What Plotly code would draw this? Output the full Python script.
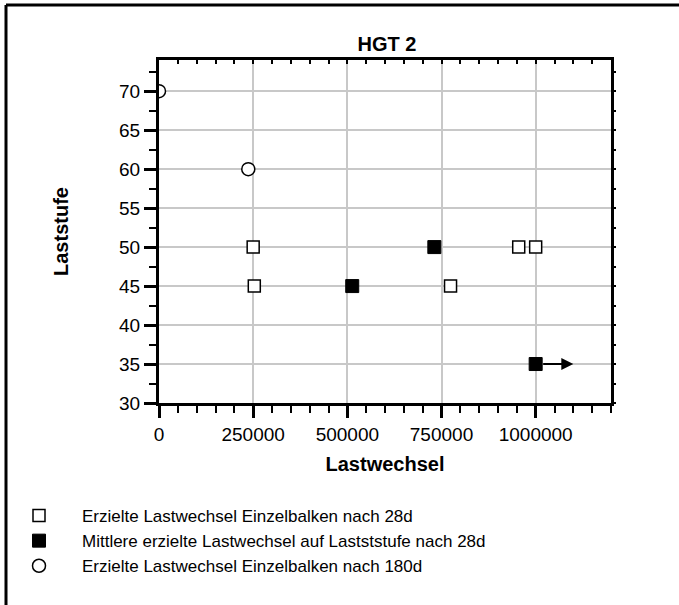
import plotly.graph_objects as go

# Data
open28_x = [250000, 253000, 774000, 955000, 1000000]
open28_y = [50, 45, 45, 50, 50]
mean_x = [513000, 731000, 1000000]
mean_y = [45, 50, 35]
open180_x = [0, 237000]
open180_y = [70, 60]
arrow_from = [1000000, 35]
arrow_to = [1100000, 35]

x_ticks = [0, 250000, 500000, 750000, 1000000]
x_ticktext = ["0", "250000", "500000", "750000", "1000000"]
y_ticks = [30, 35, 40, 45, 50, 55, 60, 65, 70]
x_range = [0, 1200000]
y_range = [30, 74]

names = [
    "Erzielte Lastwechsel Einzelbalken nach 28d",
    "Mittlere erzielte Lastwechsel auf Lastststufe nach 28d",
    "Erzielte Lastwechsel Einzelbalken nach 180d",
]

FONT = "Liberation Sans, Arial, sans-serif"

fig = go.Figure()
fig.add_trace(go.Scatter(
    x=open28_x, y=open28_y, mode="markers", name=names[0],
    marker=dict(symbol="square", size=12, color="white",
                line=dict(color="black", width=1.5)),
))
fig.add_trace(go.Scatter(
    x=mean_x, y=mean_y, mode="markers", name=names[1],
    marker=dict(symbol="square", size=13, color="black",
                line=dict(color="black", width=1)),
))
fig.add_trace(go.Scatter(
    x=open180_x, y=open180_y, mode="markers", name=names[2],
    marker=dict(symbol="circle", size=13, color="white",
                line=dict(color="black", width=1.5)),
))
# invisible trace to activate the mirror axes (top / right)
fig.add_trace(go.Scatter(x=x_range, y=y_range, mode="markers", xaxis="x2", yaxis="y2",
                         marker=dict(opacity=0), showlegend=False, hoverinfo="skip"))

fig.add_annotation(
    x=arrow_to[0], y=arrow_to[1], ax=arrow_from[0], ay=arrow_from[1],
    xref="x", yref="y", axref="x", ayref="y", text="",
    showarrow=True, arrowhead=2, arrowsize=1.2, arrowwidth=2,
    arrowcolor="black", startstandoff=6, standoff=0,
)

L, R, T, B = 159, 68, 60, 202
W, H = 679, 605
pw, ph = W - L - R, H - T - B

def px_x(p):
    return (p - L) / pw

def px_y(p):
    return (H - B - p) / ph

# outer frame (left and top lines)
fig.add_shape(type="line", xref="paper", yref="paper",
              x0=px_x(6), y0=px_y(5), x1=px_x(720), y1=px_y(5),
              line=dict(color="black", width=3))
fig.add_shape(type="line", xref="paper", yref="paper",
              x0=px_x(6), y0=px_y(5), x1=px_x(6), y1=px_y(640),
              line=dict(color="black", width=3))

fig.update_layout(
    width=W, height=H,
    margin=dict(l=L, r=R, t=T, b=B, autoexpand=False),
    paper_bgcolor="white", plot_bgcolor="white",
    font=dict(family=FONT, size=20, color="black"),
    title=dict(text="<b>HGT 2</b>", x=px_x(387), xref="paper", xanchor="center",
               y=1 - 44 / H, yanchor="middle", font=dict(size=20, family=FONT)),
    showlegend=True,
    legend=dict(x=px_x(-4), y=px_y(498), xanchor="left", yanchor="top",
                font=dict(size=17, family=FONT), bgcolor="rgba(0,0,0,0)",
                tracegroupgap=0, itemwidth=76),
    xaxis=dict(
        range=x_range, tickvals=x_ticks, ticktext=x_ticktext,
        showline=True, linewidth=3, linecolor="black", mirror=True,
        ticks="outside", ticklen=12, tickwidth=3, tickcolor="black",
        showgrid=True, gridcolor="#c8c8c8", gridwidth=1.5, zeroline=False,
        minor=dict(dtick=50000, tick0=0, ticks="outside", ticklen=7, tickwidth=2,
                   tickcolor="black", showgrid=False),
        title=dict(text="<b>Lastwechsel</b>", font=dict(size=20, family=FONT), standoff=14),
        tickfont=dict(size=19, family=FONT),
    ),
    yaxis=dict(
        range=y_range, tickvals=y_ticks,
        showline=True, linewidth=3, linecolor="black", mirror=True,
        ticks="outside", ticklen=12, tickwidth=3, tickcolor="black",
        showgrid=True, gridcolor="#c8c8c8", gridwidth=1.5, zeroline=False,
        minor=dict(dtick=2.5, tick0=30, ticks="outside", ticklen=7, tickwidth=2,
                   tickcolor="black", showgrid=False),
        title=dict(text="<b>Laststufe</b>", font=dict(size=20, family=FONT), standoff=46),
        tickfont=dict(size=19, family=FONT),
    ),
    xaxis2=dict(overlaying="x", side="top", range=x_range, showgrid=False,
                showline=False, zeroline=False, showticklabels=False,
                tick0=0, dtick=50000, ticks="inside", ticklen=4, tickwidth=2,
                tickcolor="black"),
    yaxis2=dict(overlaying="y", side="right", range=y_range, showgrid=False,
                showline=False, zeroline=False, showticklabels=False,
                tick0=30, dtick=2.5, ticks="outside", ticklen=4, tickwidth=2,
                tickcolor="black"),
)

fig.write_html("out.html")
